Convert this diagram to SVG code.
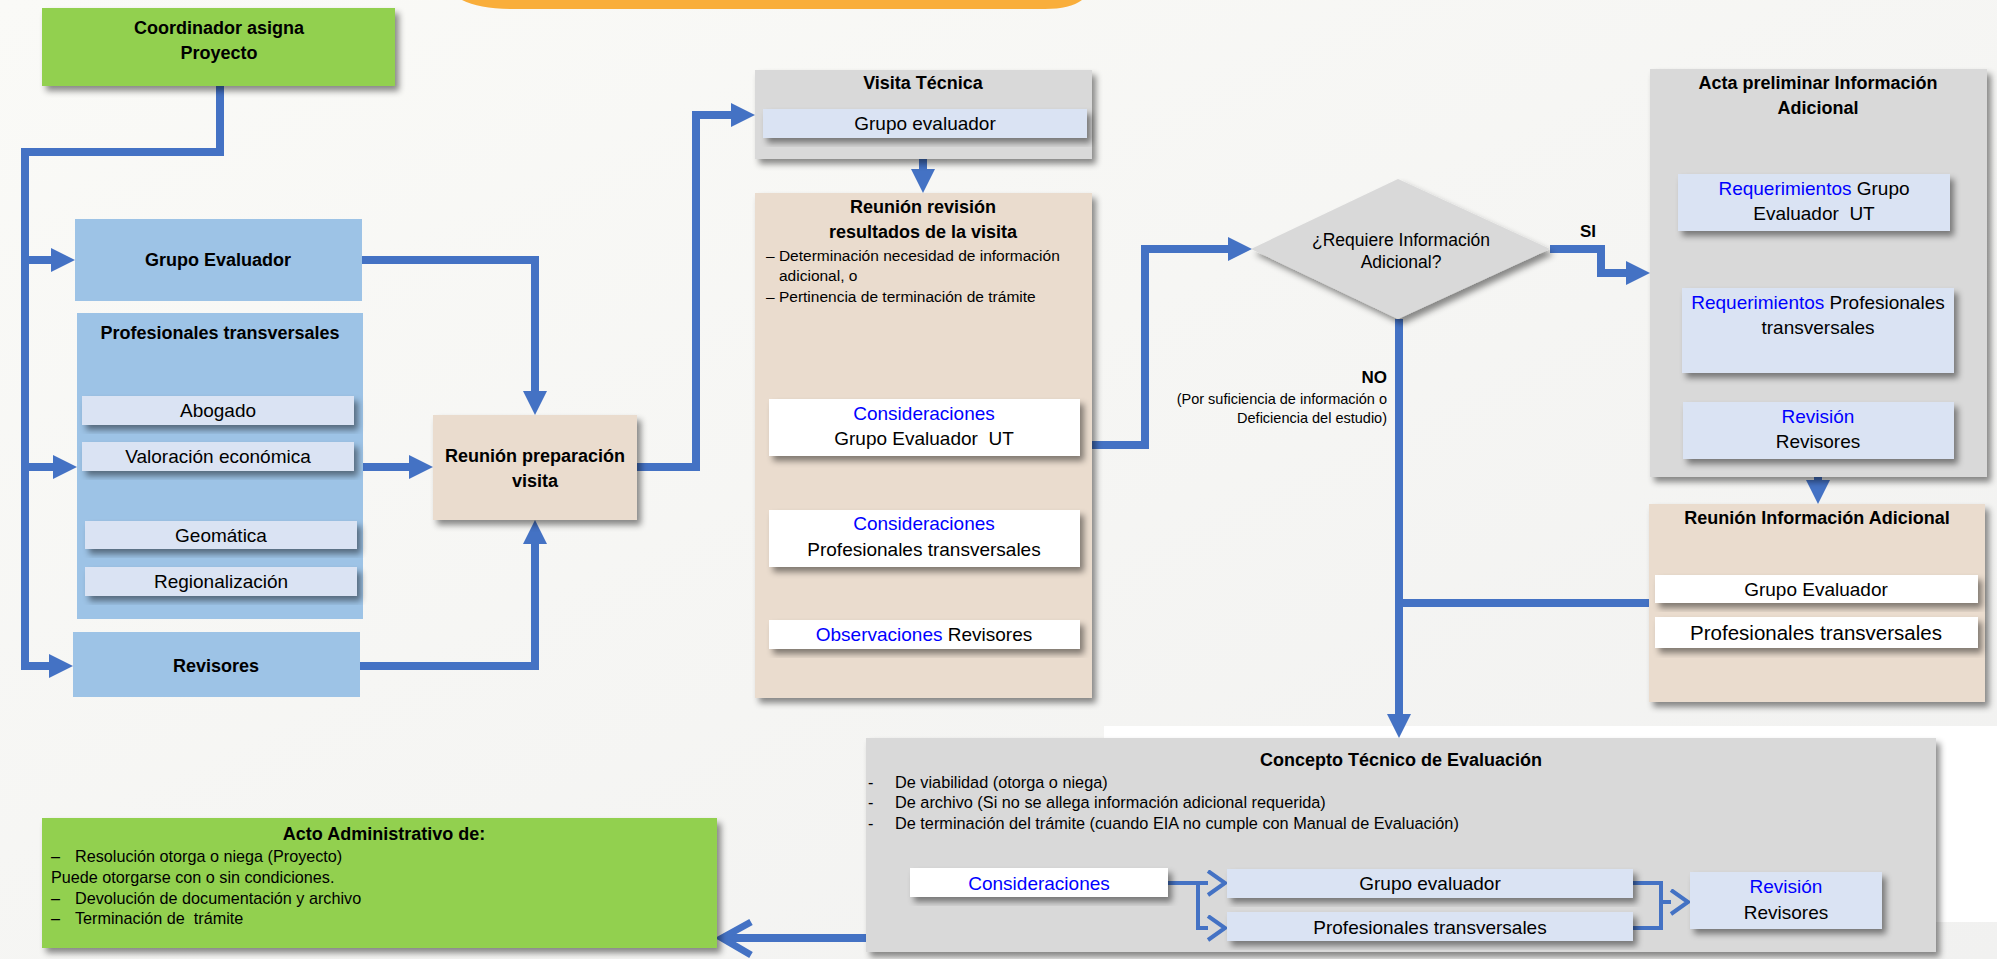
<svg xmlns="http://www.w3.org/2000/svg" width="1997" height="959" viewBox="0 0 1997 959">
<defs>
<style>
text{font-family:"Liberation Sans",Arial,sans-serif;fill:#000;}
.c{text-anchor:middle;dominant-baseline:central;}
.l{dominant-baseline:central;}
.e{text-anchor:end;dominant-baseline:central;}
.b{font-weight:bold;font-size:18px;}
.r{font-size:19px;}
.s{font-size:15.5px;}
.ct{font-size:16.3px;}
.ac{font-size:16.2px;}
.bl{fill:#0000FF;}
.pre{white-space:pre;}
.green{fill:#92D050;}
.blue{fill:#9DC3E6;}
.lblue{fill:#DAE3F3;}
.beige{fill:#EADCCE;}
.gray{fill:#D9D9D9;}
.white{fill:#FFFFFF;}
.con{fill:none;stroke:#4472C4;stroke-width:8;stroke-linejoin:miter;}
.thin{fill:none;stroke:#4472C4;stroke-width:4;stroke-linejoin:miter;}
</style>
<linearGradient id="bg" x1="0" y1="0" x2="1" y2="1">
<stop offset="0" stop-color="#FAFAF7"/>
<stop offset="1" stop-color="#F1F1F0"/>
</linearGradient>
<filter id="sh" x="-10%" y="-10%" width="130%" height="140%">
<feDropShadow dx="4" dy="5" stdDeviation="3" flood-color="#000" flood-opacity="0.45"/>
</filter>
<marker id="ah" markerUnits="userSpaceOnUse" markerWidth="26" markerHeight="26" refX="0" refY="12" orient="auto">
<path d="M0,0 L24,12 L0,24 Z" fill="#4472C4"/>
</marker>
<marker id="ch" markerUnits="userSpaceOnUse" markerWidth="24" markerHeight="30" refX="2" refY="13" orient="auto">
<path d="M2,1 L19,13 L2,25" fill="none" stroke="#4472C4" stroke-width="4"/>
</marker>
</defs>

<rect x="0" y="0" width="1997" height="959" fill="url(#bg)"/>
<path d="M462,0 Q480,9 515,9 H1045 Q1070,9 1082,0 Z" fill="#F9AE3B"/>
<rect x="1104" y="726" width="893" height="196" fill="#FFFFFF"/>

<g id="connectors">
<path class="con" d="M220,86 V152 H25 V666 H49" marker-end="url(#ah)"/>
<path class="con" d="M25,260 H51" marker-end="url(#ah)"/>
<path class="con" d="M25,467 H53" marker-end="url(#ah)"/>
<path class="con" d="M362,260 H535 V391" marker-end="url(#ah)"/>
<path class="con" d="M363,467 H409" marker-end="url(#ah)"/>
<path class="con" d="M360,666 H535 V544" marker-end="url(#ah)"/>
<path class="con" d="M637,467 H696 V115 H731" marker-end="url(#ah)"/>
<path class="con" d="M923,159 V169" marker-end="url(#ah)"/>
<path class="con" d="M1092,445 H1145 V249 H1228" marker-end="url(#ah)"/>
<path class="con" d="M1550,249 H1601 V273 H1626" marker-end="url(#ah)"/>
<path class="con" d="M1399,319 V714" marker-end="url(#ah)"/>
<path class="con" d="M1649,603 H1399"/>
<path class="con" d="M1818,477 V480" marker-end="url(#ah)"/>
<path class="con" d="M866,938 H724" stroke-width="7"/>
<path d="M751,922 L722,938 L751,955" fill="none" stroke="#4472C4" stroke-width="7"/>
</g>

<g id="coordinador">
<rect class="green" x="42" y="8" width="353" height="78" filter="url(#sh)"/>
<text class="c b" x="219" y="28">Coordinador asigna</text>
<text class="c b" x="219" y="53">Proyecto</text>
</g>

<g id="grupo-evaluador">
<rect class="blue" x="75" y="219" width="287" height="82"/>
<text class="c b" x="218" y="260">Grupo Evaluador</text>
</g>

<g id="profesionales-transversales">
<rect class="blue" x="77" y="313" width="286" height="306"/>
<text class="c b" x="220" y="333">Profesionales transversales</text>
<rect class="lblue" x="82" y="396" width="272" height="29" filter="url(#sh)"/>
<text class="c r" x="218" y="410">Abogado</text>
<rect class="lblue" x="82" y="442" width="272" height="29" filter="url(#sh)"/>
<text class="c r" x="218" y="456">Valoración económica</text>
<rect class="lblue" x="85" y="521" width="272" height="28" filter="url(#sh)"/>
<text class="c r" x="221" y="535">Geomática</text>
<rect class="lblue" x="85" y="567" width="272" height="29" filter="url(#sh)"/>
<text class="c r" x="221" y="581">Regionalización</text>
</g>

<g id="revisores">
<rect class="blue" x="73" y="632" width="287" height="65"/>
<text class="c b" x="216" y="666">Revisores</text>
</g>

<g id="reunion-preparacion">
<rect class="beige" x="433" y="415" width="204" height="105" filter="url(#sh)"/>
<text class="c b" x="535" y="456">Reunión preparación</text>
<text class="c b" x="535" y="481">visita</text>
</g>

<g id="visita-tecnica">
<rect class="gray" x="755" y="70" width="337" height="89" filter="url(#sh)"/>
<text class="c b" x="923" y="83">Visita Técnica</text>
<rect class="lblue" x="763" y="109" width="324" height="29" filter="url(#sh)"/>
<text class="c r" x="925" y="123">Grupo evaluador</text>
</g>

<g id="reunion-revision">
<rect class="beige" x="755" y="193" width="337" height="505" filter="url(#sh)"/>
<text class="c b" x="923" y="207">Reunión revisión</text>
<text class="c b" x="923" y="232">resultados de la visita</text>
<text class="l s" x="766" y="255">– Determinación necesidad de información</text>
<text class="l s" x="779" y="275">adicional, o</text>
<text class="l s" x="766" y="296">– Pertinencia de terminación de trámite</text>
<rect class="white" x="769" y="399" width="311" height="57" filter="url(#sh)"/>
<text class="c r bl" x="924" y="413">Consideraciones</text>
<text class="c r pre" x="924" y="438">Grupo Evaluador  UT</text>
<rect class="white" x="769" y="510" width="311" height="57" filter="url(#sh)"/>
<text class="c r bl" x="924" y="523">Consideraciones</text>
<text class="c r" x="924" y="549">Profesionales transversales</text>
<rect class="white" x="769" y="620" width="311" height="29" filter="url(#sh)"/>
<text class="c r" x="924" y="634"><tspan class="bl">Observaciones</tspan> Revisores</text>
</g>

<g id="decision">
<polygon class="gray" points="1251,249 1398,179 1550,249 1398,319" filter="url(#sh)"/>
<text class="c" x="1401" y="240" font-size="17.5">¿Requiere Información</text>
<text class="c" x="1401" y="262" font-size="17.5">Adicional?</text>
<text class="c" x="1588" y="231" font-size="17" font-weight="bold">SI</text>
<text class="e" x="1387" y="377" font-size="17" font-weight="bold">NO</text>
<text class="e" x="1387" y="399" font-size="14.5">(Por suficiencia de información o</text>
<text class="e" x="1387" y="418" font-size="14.5">Deficiencia del estudio)</text>
</g>

<g id="acta-preliminar">
<rect class="gray" x="1650" y="69" width="337" height="408" filter="url(#sh)"/>
<text class="c b" x="1818" y="83">Acta preliminar Información</text>
<text class="c b" x="1818" y="108">Adicional</text>
<rect class="lblue" x="1678" y="174" width="272" height="57" filter="url(#sh)"/>
<text class="c r" x="1814" y="188"><tspan class="bl">Requerimientos</tspan> Grupo</text>
<text class="c r pre" x="1814" y="213">Evaluador  UT</text>
<rect class="lblue" x="1682" y="288" width="272" height="85" filter="url(#sh)"/>
<text class="c r" x="1818" y="302"><tspan class="bl">Requerimientos</tspan> Profesionales</text>
<text class="c r" x="1818" y="327">transversales</text>
<rect class="lblue" x="1683" y="402" width="271" height="57" filter="url(#sh)"/>
<text class="c r bl" x="1818" y="416">Revisión</text>
<text class="c r" x="1818" y="441">Revisores</text>
</g>

<g id="reunion-informacion">
<rect class="beige" x="1649" y="504" width="336" height="198" filter="url(#sh)"/>
<text class="c b" x="1817" y="518">Reunión Información Adicional</text>
<rect class="white" x="1655" y="575" width="323" height="28" filter="url(#sh)"/>
<text class="c r" x="1816" y="589">Grupo Evaluador</text>
<rect class="white" x="1655" y="617" width="323" height="31" filter="url(#sh)"/>
<text class="c" x="1816" y="632" font-size="20.5">Profesionales transversales</text>
</g>

<g id="concepto-tecnico">
<rect class="gray" x="866" y="738" width="1070" height="214" filter="url(#sh)"/>
<text class="c b" x="1401" y="760">Concepto Técnico de Evaluación</text>
<text class="l ct" x="868" y="782">-</text>
<text class="l ct" x="895" y="782">De viabilidad (otorga o niega)</text>
<text class="l ct" x="868" y="802">-</text>
<text class="l ct" x="895" y="802">De archivo (Si no se allega información adicional requerida)</text>
<text class="l ct" x="868" y="823">-</text>
<text class="l ct" x="895" y="823">De terminación del trámite (cuando EIA no cumple con Manual de Evaluación)</text>
<path class="thin" d="M1168,883 H1198 V928 H1208" marker-end="url(#ch)"/>
<path class="thin" d="M1198,883 H1208" marker-end="url(#ch)"/>
<path class="thin" d="M1633,883 H1661 V928 H1633"/>
<path class="thin" d="M1661,902 H1671" marker-end="url(#ch)"/>
<rect class="white" x="910" y="868" width="258" height="29" filter="url(#sh)"/>
<text class="c r bl" x="1039" y="883">Consideraciones</text>
<rect class="lblue" x="1227" y="869" width="406" height="29" filter="url(#sh)"/>
<text class="c r" x="1430" y="883">Grupo evaluador</text>
<rect class="lblue" x="1227" y="912" width="406" height="29" filter="url(#sh)"/>
<text class="c r" x="1430" y="927">Profesionales transversales</text>
<rect class="lblue" x="1690" y="872" width="192" height="57" filter="url(#sh)"/>
<text class="c r bl" x="1786" y="886">Revisión</text>
<text class="c r" x="1786" y="912">Revisores</text>
</g>

<g id="acto-administrativo">
<rect class="green" x="42" y="818" width="675" height="130" filter="url(#sh)"/>
<text class="c b" x="384" y="834">Acto Administrativo de:</text>
<text class="l ac" x="51" y="856">–</text>
<text class="l ac" x="75" y="856">Resolución otorga o niega (Proyecto)</text>
<text class="l ac" x="51" y="877">Puede otorgarse con o sin condiciones.</text>
<text class="l ac" x="51" y="898">–</text>
<text class="l ac" x="75" y="898">Devolución de documentación y archivo</text>
<text class="l ac" x="51" y="918">–</text>
<text class="l ac pre" x="75" y="918">Terminación de  trámite</text>
</g>
</svg>
